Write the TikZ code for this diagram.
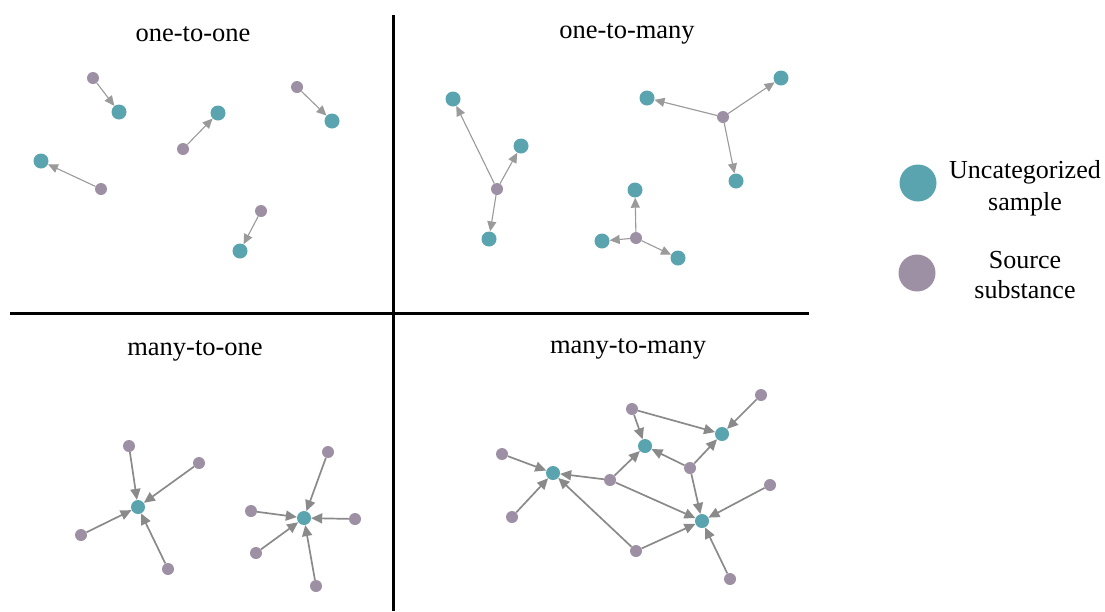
\documentclass[tikz,border=0pt]{standalone}
\usepackage{fontspec}
\setmainfont{Liberation Serif}
\usetikzlibrary{arrows.meta}
\definecolor{sampc}{HTML}{5AA4AF}
\definecolor{srcc}{HTML}{9E90A4}
\definecolor{edgec}{HTML}{8A8A8A}
\definecolor{edgel}{HTML}{9A9A9A}
\tikzset{
  samp/.style={circle,fill=sampc,inner sep=0pt,minimum size=15pt},
  src/.style={circle,fill=srcc,inner sep=0pt,minimum size=12pt},
  sampb/.style={circle,fill=sampc,inner sep=0pt,minimum size=14pt},
  srcb/.style={circle,fill=srcc,inner sep=0pt,minimum size=12pt},
  lnk/.style={draw=edgel,line width=1.1pt,-{Triangle[length=10pt,width=9pt]}},
  lnkb/.style={draw=edgec,line width=1.7pt,-{Triangle[length=11pt,width=10pt]}},
  ttl/.style={font=\fontsize{26.5}{31}\selectfont,inner sep=0pt,anchor=base},
  lgd/.style={font=\fontsize{26}{31}\selectfont,inner sep=0pt,anchor=base},
  sep/.style={line width=3pt,black}
}
\begin{document}
\begin{tikzpicture}[x=1pt,y=-1pt]
\useasboundingbox (0,0) rectangle (1105,611);
% separators
\coordinate (vt) at (393,15);
\coordinate (vb) at (393,611);
\coordinate (hl) at (10,313);
\coordinate (hr) at (809,313);
\draw[sep] (vt) -- (vb);
\draw[sep] (hl) -- (hr);
% titles
\node[ttl] (t1) at (193,41) {one-to-one};
\node[ttl] (t2) at (627,38) {one-to-many};
\node[ttl] (t3) at (195,355) {many-to-one};
\node[ttl] (t4) at (628,353) {many-to-many};
% ---- one-to-one
\node[src] (a1s) at (93,78) {};   \node[samp] (a1t) at (119,112) {};
\node[src] (a2s) at (183,149) {}; \node[samp] (a2t) at (218,113) {};
\node[src] (a3s) at (297,87) {};  \node[samp] (a3t) at (332,121) {};
\node[src] (a4s) at (101,189) {}; \node[samp] (a4t) at (41,161) {};
\node[src] (a5s) at (261,211) {}; \node[samp] (a5t) at (240,251) {};
\foreach \i in {1,...,5} \draw[lnk] (a\i s) -- (a\i t);
% ---- one-to-many
\node[src] (b1) at (497,189) {};
\node[samp] (b1a) at (453,99) {};
\node[samp] (b1b) at (521,146) {};
\node[samp] (b1c) at (489,239) {};
\node[src] (b2) at (723,117) {};
\node[samp] (b2a) at (647,98) {};
\node[samp] (b2b) at (781,78) {};
\node[samp] (b2c) at (736,181) {};
\node[src] (b3) at (636,238) {};
\node[samp] (b3a) at (635,190) {};
\node[samp] (b3b) at (602,241) {};
\node[samp] (b3c) at (678,258) {};
\foreach \i in {1,2,3} \foreach \j in {a,b,c} \draw[lnk] (b\i) -- (b\i\j);
% ---- many-to-one
\node[sampb] (c1) at (138,507) {};
\node[srcb] (c1a) at (129,446) {};
\node[srcb] (c1b) at (199,463) {};
\node[srcb] (c1c) at (81,535) {};
\node[srcb] (c1d) at (168,569) {};
\foreach \j in {a,b,c,d} \draw[lnkb] (c1\j) -- (c1);
\node[sampb] (c2) at (304,518) {};
\node[srcb] (c2a) at (328,452) {};
\node[srcb] (c2b) at (251,511) {};
\node[srcb] (c2c) at (355,519) {};
\node[srcb] (c2d) at (256,553) {};
\node[srcb] (c2e) at (316,586) {};
\foreach \j in {a,b,c,d,e} \draw[lnkb] (c2\j) -- (c2);
% ---- many-to-many
\node[sampb] (dA) at (553,473) {};
\node[sampb] (dB) at (645,446) {};
\node[sampb] (dC) at (722,434) {};
\node[sampb] (dD) at (702,521) {};
\node[srcb] (s1) at (502,454) {};
\node[srcb] (s2) at (512,517) {};
\node[srcb] (s3) at (610,480) {};
\node[srcb] (s4) at (632,409) {};
\node[srcb] (s5) at (761,395) {};
\node[srcb] (s6) at (690,468) {};
\node[srcb] (s7) at (770,485) {};
\node[srcb] (s8) at (636,551) {};
\node[srcb] (s9) at (730,579) {};
\draw[lnkb] (s1) -- (dA);
\draw[lnkb] (s2) -- (dA);
\draw[lnkb] (s3) -- (dA);
\draw[lnkb] (s3) -- (dB);
\draw[lnkb] (s3) -- (dD);
\draw[lnkb] (s4) -- (dB);
\draw[lnkb] (s4) -- (dC);
\draw[lnkb] (s5) -- (dC);
\draw[lnkb] (s6) -- (dB);
\draw[lnkb] (s6) -- (dC);
\draw[lnkb] (s6) -- (dD);
\draw[lnkb] (s7) -- (dD);
\draw[lnkb] (s8) -- (dA);
\draw[lnkb] (s8) -- (dD);
\draw[lnkb] (s9) -- (dD);
% ---- legend
\node[circle,fill=sampc,inner sep=0pt,minimum size=37pt] (lg1) at (918,183) {};
\node[circle,fill=srcc,inner sep=0pt,minimum size=37pt] (lg2) at (917,273) {};
\node[lgd] (lt1a) at (1025,178) {Uncategorized};
\node[lgd] (lt1b) at (1025,210) {sample};
\node[lgd] (lt2a) at (1025,268) {Source};
\node[lgd] (lt2b) at (1025,298) {substance};
\end{tikzpicture}
\end{document}
